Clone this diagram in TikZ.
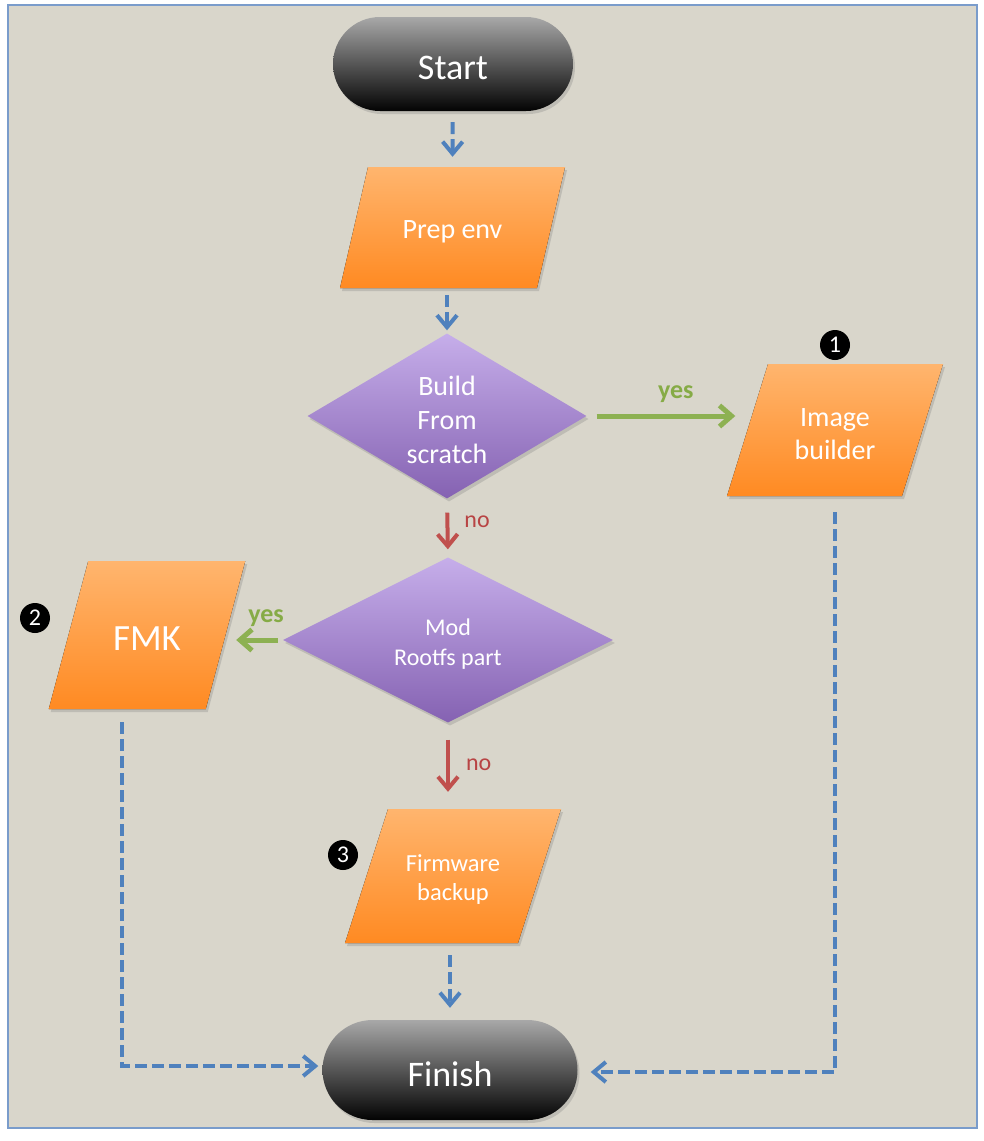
\documentclass[tikz,border=0pt]{standalone}
\usepackage{fontspec}
\setmainfont{Carlito}
\usetikzlibrary{shapes.geometric,shapes.misc,arrows.meta,shadows,calc}
\definecolor{bg}{HTML}{D9D6CB}
\definecolor{frame}{HTML}{7A9CCB}
\definecolor{flowblue}{HTML}{4F81BD}
\definecolor{flowgreen}{HTML}{8DB152}
\definecolor{labgreen}{HTML}{86AB46}
\definecolor{flowred}{HTML}{C0504D}
\definecolor{labred}{HTML}{B84444}
\definecolor{orangetop}{HTML}{FFB56E}
\definecolor{orangebot}{HTML}{FF8A22}
\definecolor{purptop}{HTML}{C6AEEA}
\definecolor{purpbot}{HTML}{8562B2}
\definecolor{termtop}{HTML}{A8A8A8}
\definecolor{termbot}{HTML}{030303}
\newcommand\lowr[1]{\raisebox{-4pt}[\height][\depth]{#1}}
% #1 name, #2 cx, #3 cy, #4 edge width, #5 height, #6 slant, #7 font, #8 text
\newcommand\ioshape[8]{%
  \fill[iofill] ({#2-#4/2+#6/2},{#3-#5/2}) -- ({#2+#4/2+#6/2},{#3-#5/2})
    -- ({#2+#4/2-#6/2},{#3+#5/2}) -- ({#2-#4/2-#6/2},{#3+#5/2}) -- cycle;
  \node[iotext, minimum width=#4pt, minimum height=#5pt, font=#7] (#1) at (#2,#3) {#8};}
\begin{document}
\begin{tikzpicture}[x=1pt,y=-1pt,
  shadowed/.style={drop shadow={shadow xshift=2pt,shadow yshift=-3pt,opacity=.3}},
  terminal/.style={rounded rectangle, inner sep=0pt, top color=termtop, bottom color=termbot,
    text=white, shadowed, font=\fontsize{36}{36}\selectfont},
  iofill/.style={top color=orangetop, bottom color=orangebot, shadowed},
  iotext/.style={rectangle, inner sep=0pt, text=white, align=center},
  decision/.style={diamond, shape aspect=1.7, inner sep=0pt, top color=purptop,
    bottom color=purpbot, text=white, align=center, shadowed},
  badge/.style={circle, fill=black, text=white, minimum size=30pt, inner sep=0pt,
    font=\fontsize{24}{24}\selectfont},
  dasharrow/.style={draw=flowblue, line width=4pt, dash pattern=on 12pt off 5pt,
    -{Straight Barb[length=12pt,width=20pt]}},
  noarrow/.style={draw=flowred, line width=4pt, -{Straight Barb[length=12pt,width=20pt]}},
  yesarrow/.style={draw=flowgreen, line width=5pt, -{Straight Barb[length=12pt,width=21pt]}},
  nolab/.style={text=labred, inner sep=0pt, font=\fontsize{24}{24}\selectfont},
  yeslab/.style={text=labgreen, inner sep=0pt, font=\bfseries\fontsize{26}{26}\selectfont}
]
\useasboundingbox (0,0) rectangle (984,1141);
\fill[white] (0,0) rectangle (984,1141);
\draw[fill=bg, draw=frame, line width=2pt] (8,5) rectangle (977,1128);

% nodes
\node[terminal, minimum width=240pt, minimum height=94pt] (start) at (453,64) {\lowr{Start}};
\ioshape{prep}{452.5}{227.5}{197}{121}{28}{\fontsize{28}{34}\selectfont}{\lowr{Prep env}}
\node[decision, minimum width=279pt, minimum height=165pt, font=\fontsize{28}{34}\selectfont]
  (build) at (447,416) {\lowr{Build}\\\lowr{From}\\\lowr{scratch}};
\ioshape{image}{835}{430}{175}{132}{41}{\fontsize{28}{33}\selectfont}{\lowr{Image}\\\lowr{builder}}
\node[decision, minimum width=330pt, minimum height=165pt, font=\fontsize{24}{30}\selectfont]
  (mod) at (448,640) {\lowr{Mod}\\\lowr{Rootfs part}};
\ioshape{fmk}{147}{635}{157}{148}{39.5}{\fontsize{37}{37}\selectfont}{\lowr{FMK}}
\ioshape{firm}{453}{876}{173}{134}{43}{\fontsize{24.5}{29}\selectfont}{\lowr{Firmware}\\\lowr{backup}}
\node[terminal, minimum width=255pt, minimum height=100pt] (finish) at (450,1070) {\lowr{Finish}};

\node[badge] (b1) at (835,345) {1};
\node[badge] (b2) at (35,618) {2};
\node[badge] (b3) at (343,855) {3};

% connectors
\draw[dasharrow, shorten <=11pt, shorten >=10pt] (start) -- (prep.north);
\draw[dasharrow, shorten <=7pt, shorten >=3pt] (build.north |- prep.south) -- (build.north);
\draw[noarrow, shorten <=14pt, shorten >=8pt] (build.south) -- (mod.north)
  node[nolab, pos=.4, anchor=west, xshift=15pt] {no};
\draw[yesarrow, shorten <=10pt] (build.east) -- ($(build.east -| image.west)+(-12,0)$)
  node[yeslab, pos=.6, anchor=south, yshift=11pt] {yes};
\draw[yesarrow, shorten <=5pt] (mod.west) -- ($(mod.west -| fmk.east)+(10.5,0)$)
  node[yeslab, pos=.36, anchor=south, yshift=11pt] {yes};
\draw[noarrow, shorten <=17pt, shorten >=17pt] (mod.south) -- (mod.south |- firm.north)
  node[nolab, pos=.49, anchor=west, xshift=16pt] {no};
\draw[dasharrow, shorten <=12pt, shorten >=12pt] (finish.north |- firm.south) -- (finish.north);
\path (fmk.south) ++(-25,13) coordinate (fmkout);
\draw[dasharrow, shorten >=4pt] (fmkout) |- ([yshift=4pt]finish.west);
\path (image.south) ++(0,16) coordinate (imgout);
\draw[dasharrow, shorten >=13pt] (imgout) |- ([yshift=-2pt]finish.east);
\end{tikzpicture}
\end{document}
